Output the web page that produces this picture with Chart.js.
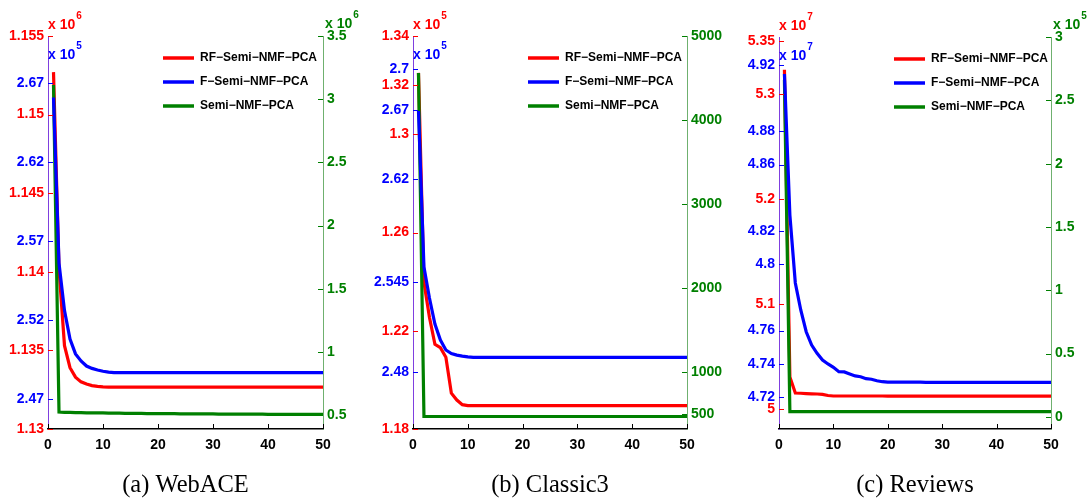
<!DOCTYPE html>
<html>
<head>
<meta charset="utf-8">
<script src="https://cdn.jsdelivr.net/npm/chart.js@4.4.1/dist/chart.umd.min.js"></script>
<style>
  body { margin: 0; background: #fff; }
  .panel { position: absolute; top: 0; }
</style>
</head>
<body>
<div class="panel" style="left:0px"><canvas id="cWeb" width="360" height="500"></canvas></div>
<div class="panel" style="left:360px"><canvas id="cClassic" width="365" height="500"></canvas></div>
<div class="panel" style="left:725px"><canvas id="cReviews" width="364" height="500"></canvas></div>
<script>
// iterations on the x axis
var iterations = [1,2,3,4,5,6,7,8,9,10,11,12,13,14,15,16,17,18,19,20,21,22,23,24,25,
                  26,27,28,29,30,31,32,33,34,35,36,37,38,39,40,41,42,43,44,45,46,47,48,49,50];
var xTicks = [0, 10, 20, 30, 40, 50];
var seriesNames = ['RF\u2212Semi\u2212NMF\u2212PCA', 'F\u2212Semi\u2212NMF\u2212PCA', 'Semi\u2212NMF\u2212PCA'];

// (a) WebACE  -- RF x10^6, F x10^5, Semi x10^6
var webRF = [1.1527,1.1402,1.1353,1.1339,1.1333,1.1330,1.13286,1.13276,1.13271,1.13268,
             1.13267,1.13267,1.13266,1.13266,1.13266,1.13266,1.13266,1.13266,1.13266,1.13266,
             1.13266,1.13266,1.13266,1.13266,1.13266,1.13266,1.13266,1.13266,1.13266,1.13266,
             1.13266,1.13266,1.13266,1.13266,1.13266,1.13266,1.13266,1.13266,1.13266,1.13266,
             1.13266,1.13266,1.13266,1.13266,1.13266,1.13266,1.13266,1.13266,1.13266,1.13266];
var webF = [2.661,2.556,2.526,2.508,2.4986,2.4941,2.4909,2.4894,2.4884,2.4876,
            2.4870,2.4867,2.4867,2.4867,2.4867,2.4867,2.4867,2.4867,2.4867,2.4867,
            2.4867,2.4867,2.4867,2.4867,2.4867,2.4867,2.4867,2.4867,2.4867,2.4867,
            2.4867,2.4867,2.4867,2.4867,2.4867,2.4867,2.4867,2.4867,2.4867,2.4867,
            2.4867,2.4867,2.4867,2.4867,2.4867,2.4867,2.4867,2.4867,2.4867,2.4867];
var webSemi = [3.112,0.524,0.522,0.521,0.520,0.519,0.518,0.518,0.517,0.517,
               0.516,0.515,0.515,0.514,0.514,0.513,0.513,0.512,0.512,0.512,
               0.511,0.511,0.511,0.510,0.510,0.510,0.509,0.509,0.509,0.509,
               0.508,0.508,0.508,0.508,0.507,0.507,0.507,0.507,0.507,0.506,
               0.506,0.506,0.506,0.506,0.506,0.505,0.505,0.505,0.505,0.505];
var webRedTicks = [1.13, 1.135, 1.14, 1.145, 1.15, 1.155];
var webBlueTicks = [2.47, 2.52, 2.57, 2.62, 2.67];
var webGreenTicks = [0.5, 1, 1.5, 2, 2.5, 3, 3.5];

// (b) Classic3  -- RF x10^5, F x10^5, Semi plain
var classicRF = [1.325,1.2397,1.2255,1.2145,1.2131,1.2092,1.1946,1.1918,1.1899,1.1895,
                 1.1895,1.1895,1.1895,1.1895,1.1895,1.1895,1.1895,1.1895,1.1895,1.1895,
                 1.1895,1.1895,1.1895,1.1895,1.1895,1.1895,1.1895,1.1895,1.1895,1.1895,
                 1.1895,1.1895,1.1895,1.1895,1.1895,1.1895,1.1895,1.1895,1.1895,1.1895,
                 1.1895,1.1895,1.1895,1.1895,1.1895,1.1895,1.1895,1.1895,1.1895,1.1895];
var classicF = [2.6693,2.5561,2.5337,2.5148,2.5032,2.4960,2.4934,2.4923,2.4916,2.4910,
                2.4907,2.4907,2.4907,2.4907,2.4907,2.4907,2.4907,2.4907,2.4907,2.4907,
                2.4907,2.4907,2.4907,2.4907,2.4907,2.4907,2.4907,2.4907,2.4907,2.4907,
                2.4907,2.4907,2.4907,2.4907,2.4907,2.4907,2.4907,2.4907,2.4907,2.4907,
                2.4907,2.4907,2.4907,2.4907,2.4907,2.4907,2.4907,2.4907,2.4907,2.4907];
var classicSemi = [4560,470,470,470,470,470,470,470,470,470,
                   470,470,470,470,470,470,470,470,470,470,
                   470,470,470,470,470,470,470,470,470,470,
                   470,470,470,470,470,470,470,470,470,470,
                   470,470,470,470,470,470,470,470,470,470];
var classicRedTicks = [1.18, 1.22, 1.26, 1.3, 1.32, 1.34];
var classicBlueTicks = [2.48, 2.545, 2.62, 2.67, 2.7];
var classicGreenTicks = [500, 1000, 2000, 3000, 4000, 5000];

// (c) Reviews  -- RF x10^7, F x10^7, Semi x10^5
var reviewsRF = [5.3229,5.0305,5.0152,5.0150,5.0147,5.0145,5.0143,5.0140,5.0129,5.0124,
                 5.0124,5.0124,5.0124,5.0124,5.0124,5.0124,5.0124,5.0124,5.0124,5.0123,
                 5.0123,5.0123,5.0123,5.0123,5.0123,5.0123,5.0123,5.0123,5.0123,5.0123,
                 5.0123,5.0123,5.0123,5.0123,5.0123,5.0123,5.0123,5.0123,5.0123,5.0123,
                 5.0123,5.0123,5.0123,5.0123,5.0123,5.0123,5.0123,5.0123,5.0123,5.0123];
var reviewsF = [4.9146,4.8296,4.7887,4.7724,4.7593,4.7513,4.7463,4.7423,4.7399,4.7379,
                4.7352,4.7351,4.7339,4.7327,4.7322,4.7310,4.7307,4.7298,4.7292,4.7289,
                4.7289,4.7289,4.7289,4.7289,4.7289,4.7289,4.7288,4.7288,4.7288,4.7288,
                4.7288,4.7288,4.7288,4.7288,4.7288,4.7288,4.7288,4.7288,4.7288,4.7288,
                4.7288,4.7288,4.7288,4.7288,4.7288,4.7288,4.7288,4.7288,4.7288,4.7288];
var reviewsSemi = [2.66,0.042,0.042,0.042,0.042,0.042,0.042,0.042,0.042,0.042,
                   0.042,0.042,0.042,0.042,0.042,0.042,0.042,0.042,0.042,0.042,
                   0.042,0.042,0.042,0.042,0.042,0.042,0.042,0.042,0.042,0.042,
                   0.042,0.042,0.042,0.042,0.042,0.042,0.042,0.042,0.042,0.042,
                   0.042,0.042,0.042,0.042,0.042,0.042,0.042,0.042,0.042,0.042];
var reviewsRedTicks = [5, 5.1, 5.2, 5.3, 5.35];
var reviewsBlueTicks = [4.72, 4.74, 4.76, 4.8, 4.82, 4.86, 4.88, 4.92];
var reviewsGreenTicks = [0, 0.5, 1, 1.5, 2, 2.5, 3];

var RED = '#ff0000', BLUE = '#0000ff', GREEN = '#008000';
var tickFont = { family: '"Liberation Sans", Arial, sans-serif', size: 14, weight: 'bold' };

// exponent labels, inward tick marks and the legend box
var decor = {
  id: 'decor',
  afterLayout: function(chart) {
    // blue axis has zero width; widen its box to the red one so its labels are not clipped
    chart.scales.yBlue.left = chart.scales.yRed.left;
  },
  afterDraw: function(chart) {
    var c = chart.ctx, a = chart.chartArea, p = chart.options.plugins.decor;
    c.save();

    // short tick marks pointing into the plot
    c.lineWidth = 1;
    [['yRed', RED, 1], ['yBlue', BLUE, 1], ['yGreen', GREEN, -1]].forEach(function(s) {
      var sc = chart.scales[s[0]];
      var x0 = s[2] > 0 ? a.left : a.right;
      c.strokeStyle = s[1];
      sc.ticks.forEach(function(t) {
        var y = Math.round(sc.getPixelForValue(t.value)) + 0.5;
        c.beginPath(); c.moveTo(x0, y); c.lineTo(x0 + 5 * s[2], y); c.stroke();
      });
    });
    var xs = chart.scales.x;
    c.strokeStyle = '#000';
    xs.ticks.forEach(function(t) {
      var x = Math.round(xs.getPixelForValue(t.value)) + 0.5;
      c.beginPath(); c.moveTo(x, a.bottom); c.lineTo(x, a.bottom - 5); c.stroke();
    });

    // "x 10^n" multipliers
    function expo(x, y, n, col) {
      c.fillStyle = col;
      c.textBaseline = 'middle';
      c.textAlign = 'left';
      c.font = 'bold 14px "Liberation Sans", Arial, sans-serif';
      c.fillText('x 10', x, y);
      var w = c.measureText('x 10').width;
      c.font = 'bold 10px "Liberation Sans", Arial, sans-serif';
      c.fillText(n, x + w + 1, y - 9);
    }
    if (p.expRed) expo(a.left, a.top - 11, p.expRed, RED);
    if (p.expBlue) expo(a.left, a.top + 19, p.expBlue, BLUE);
    if (p.expGreen) expo(a.right + 2, a.top - 12, p.expGreen, GREEN);

    // legend
    var cols = [RED, BLUE, GREEN], rows = [22, 46, 70];
    c.font = 'bold 12px "Liberation Sans", Arial, sans-serif';
    c.textBaseline = 'middle';
    for (var i = 0; i < 3; i++) {
      var y = a.top + rows[i];
      c.strokeStyle = cols[i];
      c.lineWidth = 3.5;
      c.beginPath(); c.moveTo(a.left + 115, y); c.lineTo(a.left + 146, y); c.stroke();
      c.fillStyle = '#000';
      c.fillText(seriesNames[i], a.left + 152, y);
    }
    c.restore();
  }
};

function pts(arr) {
  return arr.map(function(v, i) { return { x: iterations[i], y: v }; });
}

function yAxis(pos, weight, min, max, ticks, col, lineCol, width) {
  return {
    type: 'linear', position: pos, weight: weight, min: min, max: max,
    afterBuildTicks: function(s) { s.ticks = ticks.map(function(v) { return { value: v }; }); },
    afterFit: function(s) { s.width = width; },
    grid: { drawOnChartArea: false, drawTicks: false },
    border: { color: lineCol, width: 1 },
    ticks: { color: col, font: tickFont, padding: 4, autoSkip: false,
             callback: function(v) { return String(v); } }
  };
}

function makePanel(id, p) {
  return new Chart(document.getElementById(id).getContext('2d'), {
    type: 'line',
    data: {
      datasets: [
        { label: seriesNames[0], data: pts(p.rf), yAxisID: 'yRed', borderColor: RED, order: 2 },
        { label: seriesNames[1], data: pts(p.f), yAxisID: 'yBlue', borderColor: BLUE, order: 0 },
        { label: seriesNames[2], data: pts(p.semi), yAxisID: 'yGreen', borderColor: GREEN, order: 1 }
      ]
    },
    options: {
      responsive: false,
      animation: false,
      devicePixelRatio: 1,
      layout: { padding: { top: p.top, left: 0, right: 0, bottom: 0 } },
      elements: { point: { radius: 0 }, line: { borderWidth: 3.2, tension: 0 } },
      scales: {
        x: {
          type: 'linear', min: 0, max: 50,
          afterBuildTicks: function(s) { s.ticks = xTicks.map(function(v) { return { value: v }; }); },
          afterFit: function(s) { s.height = 71; },
          grid: { drawOnChartArea: false, drawTicks: false },
          border: { color: '#000', width: 1.5 },
          ticks: { color: '#000', font: tickFont, padding: 8, maxRotation: 0 },
          title: { display: true, text: p.caption, color: '#000',
                   font: { family: '"Liberation Serif", "Times New Roman", serif', size: 24.5 },
                   padding: { top: 0, bottom: 0 } }
        },
        yRed: yAxis('left', 1, p.red[0], p.red[1], p.redTicks, RED, '#ff5a5a', p.leftW),
        yBlue: yAxis('left', 0, p.blue[0], p.blue[1], p.blueTicks, BLUE, '#7f3fdf', 0),
        yGreen: yAxis('right', 0, p.green[0], p.green[1], p.greenTicks, GREEN, '#6fb06f', p.rightW)
      },
      plugins: {
        legend: { display: false },
        tooltip: { enabled: false },
        decor: { expRed: p.expRed, expBlue: p.expBlue, expGreen: p.expGreen }
      }
    },
    plugins: [decor]
  });
}

makePanel('cWeb', {
  caption: '(a) WebACE', top: 36, leftW: 48, rightW: 37,
  rf: webRF, f: webF, semi: webSemi,
  red: [1.13, 1.155], blue: [2.451, 2.700], green: [0.39, 3.5],
  redTicks: webRedTicks, blueTicks: webBlueTicks, greenTicks: webGreenTicks,
  expRed: '6', expBlue: '5', expGreen: '6'
});

makePanel('cClassic', {
  caption: '(b) Classic3', top: 36, leftW: 53, rightW: 38,
  rf: classicRF, f: classicF, semi: classicSemi,
  red: [1.18, 1.34], blue: [2.4387, 2.7237], green: [321, 5000],
  redTicks: classicRedTicks, blueTicks: classicBlueTicks, greenTicks: classicGreenTicks,
  expRed: '5', expBlue: '5', expGreen: null
});

makePanel('cReviews', {
  caption: '(c) Reviews', top: 37, leftW: 54, rightW: 38,
  rf: reviewsRF, f: reviewsF, semi: reviewsSemi,
  red: [4.981, 5.354], blue: [4.7007, 4.9369], green: [-0.095, 3.0],
  redTicks: reviewsRedTicks, blueTicks: reviewsBlueTicks, greenTicks: reviewsGreenTicks,
  expRed: '7', expBlue: '7', expGreen: '5'
});
</script>
</body>
</html>
